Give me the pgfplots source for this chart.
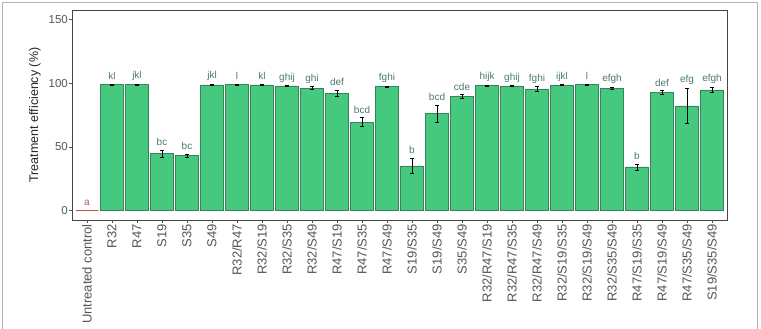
\documentclass[border=0pt]{standalone}
\usepackage{pgfplots}
\pgfplotsset{compat=1.18}
\usepackage{pgfplotstable}
\usepackage{fontspec}
\setmainfont{Liberation Sans}
\definecolor{barfill}{RGB}{69,201,126}
\definecolor{bardraw}{RGB}{58,130,92}
\definecolor{lettc}{RGB}{74,122,110}
\definecolor{ctrlred}{RGB}{185,80,78}
\definecolor{axc}{RGB}{70,70,70}
\definecolor{tickc}{RGB}{85,85,85}
\pgfplotstableread{
x v e lab
1 98.9 0.5 kl
2 98.9 0.5 jkl
3 44.6 3.0 bc
4 43.3 1.2 bc
5 98.6 0.6 jkl
6 98.8 0.3 l
7 98.6 0.5 kl
8 97.8 0.4 ghij
9 96.2 1.2 ghi
10 92.1 2.3 def
11 69.4 3.5 bcd
12 97.3 0.4 fghi
13 35.0 6.0 b
14 76.2 6.7 bcd
15 89.5 1.5 cde
16 98.1 0.4 hijk
17 97.8 0.4 ghij
18 95.5 1.8 fghi
19 98.4 0.4 ijkl
20 98.9 0.3 l
21 96.2 0.8 efgh
22 34.2 2.3 b
23 92.6 1.5 def
24 82.2 14.0 efg
25 94.7 2.0 efgh
}\datatable
\pgfplotstableread{
x v e lab
0 0 0 a
}\ctrltable
\begin{document}
\begin{tikzpicture}
\useasboundingbox (0,0) rectangle (761bp,329bp);
\draw[gray!60, line width=1bp] (2.5bp,-5bp) rectangle (757.5bp,326.5bp);
\begin{axis}[
  at={(72bp,109bp)}, anchor=south west,
  scale only axis, width=655bp, height=210bp,
  xmin=-0.6, xmax=25.6, ymin=-7.5, ymax=157.5,
  ytick={0,50,100,150},
  xtick={0,...,25},
  xtick pos=bottom, ytick pos=left,
  xticklabels={Untreated control,R32,R47,S19,S35,S49,R32/R47,R32/S19,R32/S35,R32/S49,R47/S19,R47/S35,R47/S49,S19/S35,S19/S49,S35/S49,R32/R47/S19,R32/R47/S35,R32/R47/S49,R32/S19/S35,R32/S19/S49,R32/S35/S49,R47/S19/S35,R47/S19/S49,R47/S35/S49,S19/S35/S49},
  xticklabel style={rotate=90, anchor=east, font=\fontsize{13bp}{15bp}\selectfont, color=tickc, inner sep=1bp},
  yticklabel style={font=\fontsize{11.5bp}{13bp}\selectfont, color=tickc, inner sep=1bp},
  /pgf/number format/assume math mode=true,
  tick align=outside, major tick length=3bp,
  tick style={color=tickc, line width=0.6bp},
  axis line style={color=axc, line width=0.9bp},
  ylabel={Treatment efficiency (\%)},
  ylabel style={at={(axis description cs:-0.0565,0.5)}, anchor=center, font=\fontsize{12.5bp}{14bp}\selectfont, color=black!85},
  clip=false,
]
\addplot[ybar, bar width=0.9, fill=barfill, draw=bardraw, line width=0.6bp,
  error bars/.cd, y dir=both, y explicit, error bar style={black, line width=0.5bp}, error mark options={black, rotate=90, mark size=1.6bp, line width=0.5bp}]
  table[x=x, y=v, y error=e] {\datatable};
\addplot[ybar, bar width=0.9, fill=none, draw=ctrlred, line width=1bp] table[x=x, y=v] {\ctrltable};
\addplot[draw=none, mark=none, nodes near coords, point meta=explicit symbolic,
  every node near coord/.style={anchor=center, yshift=8bp, color=lettc, font=\fontsize{10bp}{12bp}\selectfont}]
  table[x=x, y expr=\thisrow{v}+\thisrow{e}, meta=lab] {\datatable};
\addplot[draw=none, mark=none, nodes near coords, point meta=explicit symbolic,
  every node near coord/.style={anchor=center, yshift=8bp, color=ctrlred!70!gray, font=\fontsize{10bp}{12bp}\selectfont}]
  table[x=x, y=v, meta=lab] {\ctrltable};
\end{axis}
\end{tikzpicture}
\end{document}
